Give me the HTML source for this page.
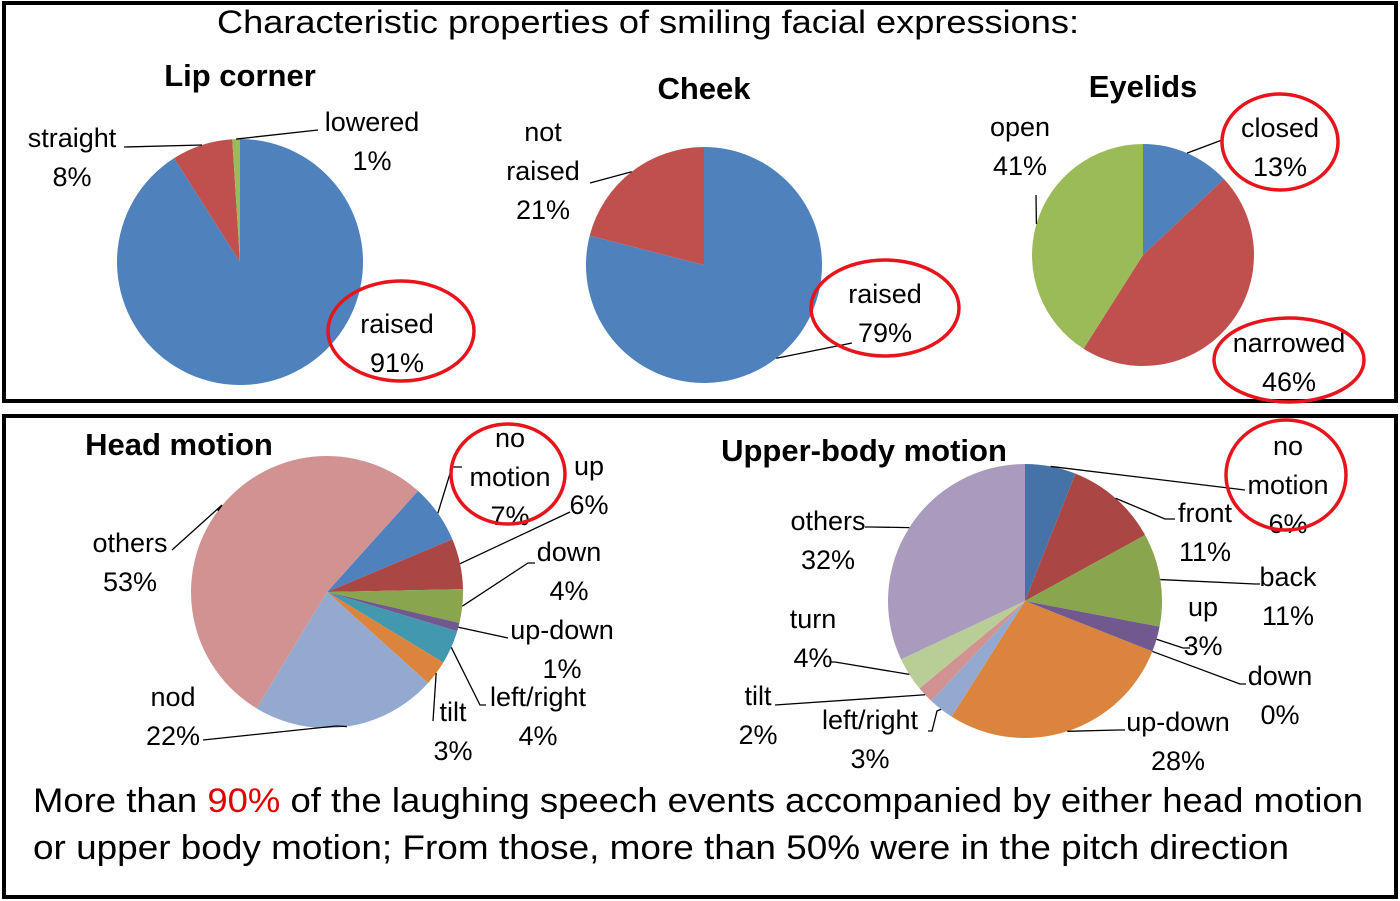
<!DOCTYPE html>
<html><head><meta charset="utf-8"><style>
html,body{margin:0;padding:0;background:#fff;}
svg{display:block;font-family:"Liberation Sans",sans-serif;}
text{fill:#000;}
</style></head><body>
<svg id="c" width="1400" height="901" viewBox="0 0 1400 901">
<rect x="4" y="3" width="1392" height="398" fill="none" stroke="#000" stroke-width="4"/>
<rect x="4" y="416" width="1392" height="481" fill="none" stroke="#000" stroke-width="4"/>
<text x="648" y="33" font-size="32" text-anchor="middle" textLength="862" lengthAdjust="spacingAndGlyphs">Characteristic properties of smiling facial expressions:</text>
<g id="pies"></g>
<g id="labels" font-size="27"></g>
<text x="33" y="812" font-size="34" textLength="1330" lengthAdjust="spacingAndGlyphs">More than <tspan fill="#e00000" style="fill:#e00000">90%</tspan> of the laughing speech events accompanied by either head motion</text>
<text x="33" y="859" font-size="34" textLength="1256" lengthAdjust="spacingAndGlyphs">or upper body motion; From those, more than 50% were in the pitch direction</text>
</svg>
<script>
const lipCats=["raised","straight","lowered"];
const lipVals=[91,8,1];
const cheekCats=["raised","not raised"];
const cheekVals=[79,21];
const eyeCats=["closed","narrowed","open"];
const eyeVals=[13,46,41];
const headCats=["no motion","up","down","up-down","left/right","tilt","nod","others"];
const headVals=[7,6,4,1,4,3,22,53];
const bodyCats=["no motion","front","back","up","down","up-down","left/right","tilt","turn","others"];
const bodyVals=[6,11,11,3,0,28,3,2,4,32];

const NS="http://www.w3.org/2000/svg";
const svg=document.getElementById('c');
const pg=document.getElementById('pies');
const lg=document.getElementById('labels');
function mk(tag,attrs,parent){const e=document.createElementNS(NS,tag);for(const k in attrs)e.setAttribute(k,attrs[k]);(parent||svg).appendChild(e);return e;}
function pt(cx,cy,r,deg){const a=deg*Math.PI/180;return [cx+r*Math.sin(a),cy-r*Math.cos(a)];}
function pie(name,cats,vals,cx,cy,r,start,colors){
  const tot=vals.reduce((a,b)=>a+b,0);let a0=start;
  const g=mk('g',{},pg);
  
  
  const mids=[];
  vals.forEach((v,i)=>{
    const sweep=v/tot*360;const a1=a0+sweep;
    mids.push(a0+sweep/2);
    if(sweep>0){
      const p0=pt(cx,cy,r,a0),p1=pt(cx,cy,r,a1);
      const d=sweep>=359.99?`M${cx} ${cy-r}A${r} ${r} 0 1 1 ${cx-0.01} ${cy-r}Z`:
        `M${cx} ${cy}L${p0[0]} ${p0[1]}A${r} ${r} 0 ${sweep>180?1:0} 1 ${p1[0]} ${p1[1]}Z`;
      const p=mk('path',{d:d,fill:colors[i]},g);
      
      
    }
    a0=a1;
  });
  return mids;
}
function lbl(lines,x,y,name,anchor){
  const t=mk('text',{x:x,y:y,'text-anchor':anchor||'middle'},lg);
  
  
  lines.forEach((s,i)=>{const ts=mk('tspan',{x:x,dy:i?39:0},t);ts.textContent=s;});
}
function pct(v){return v+'%';}
function leader(pts){mk('polyline',{points:pts.map(p=>p.join(',')).join(' '),fill:'none',stroke:'#000','stroke-width':1.3},lg);}
function leaderFrom(cx,cy,r,ang,pts){leader([pt(cx,cy,r,ang)].concat(pts));}
function ell(cx,cy,rx,ry,name){const e=mk('ellipse',{cx:cx,cy:cy,rx:rx,ry:ry,fill:'none',stroke:'#e8141c','stroke-width':3.5},lg);}
function title(s,x,y,name){const t=mk('text',{x:x,y:y,'text-anchor':'middle','font-size':31,'font-weight':'bold'},lg);t.textContent=s;}

const C3=["#4f81bd","#c0504d","#9bbb59"];
title("Lip corner",240,86,"lip-corner-title");
let m=pie("lip-corner",lipCats,lipVals,240,262,123,0,C3);
lbl([lipCats[0],pct(lipVals[0])],397,333,"label-raised");
ell(401,331,73,50,"highlight-raised");
leaderFrom(240,262,123,m[1],[[124,147]]);
lbl([lipCats[1],pct(lipVals[1])],72,147,"label-straight");
leaderFrom(240,262,123,m[2],[[318,130]]);
lbl([lipCats[2],pct(lipVals[2])],372,131,"label-lowered");
title("Cheek",704,99,"cheek-title");
m=pie("cheek",cheekCats,cheekVals,704,265,118,0,C3);
leaderFrom(704,265,118,m[0],[[852,343]]);
lbl([cheekCats[0],pct(cheekVals[0])],885,303,"label-cheek-raised");
ell(885,308,74,48,"highlight-cheek-raised");
leaderFrom(704,265,118,m[1],[[590,183]]);
lbl(["not","raised",pct(cheekVals[1])],543,141,"label-not-raised");
title("Eyelids",1143,97,"eyelids-title");
m=pie("eyelids",eyeCats,eyeVals,1143,255,111,0,C3);
leaderFrom(1143,255,111,m[0],[[1222,140]]);
lbl([eyeCats[0],pct(eyeVals[0])],1280,137,"label-closed");
ell(1280,142,58,48,"highlight-closed");
lbl([eyeCats[1],pct(eyeVals[1])],1289,352,"label-narrowed");
ell(1289,360,75,42,"highlight-narrowed");
leaderFrom(1143,255,111,m[2],[[1036,195]]);
lbl([eyeCats[2],pct(eyeVals[2])],1020,136,"label-open");

const CH=["#4f81bd","#aa4643","#89a54e","#71588f","#4198af","#db843d","#93a9cf","#d19392"];
title("Head motion",179,455,"head-motion-title");
m=pie("head-motion",headCats,headVals,327,592,136,42,CH);
leaderFrom(327,592,136,m[0],[[452,467],[462,467]]);
lbl(["no","motion",pct(headVals[0])],510,447,"label-head-no-motion");
ell(508,474,57,50,"highlight-head-no-motion");
leaderFrom(327,592,136,m[1],[[570,512]]);
lbl([headCats[1],pct(headVals[1])],589,475,"label-head-up");
leaderFrom(327,592,136,m[2],[[528,563],[535,563]]);
lbl([headCats[2],pct(headVals[2])],569,561,"label-head-down");
leaderFrom(327,592,136,m[3],[[508,638]]);
lbl([headCats[3],pct(headVals[3])],562,639,"label-head-up-down");
leaderFrom(327,592,136,m[4],[[480,705],[486,705]]);
lbl([headCats[4],pct(headVals[4])],538,706,"label-head-left-right");
leaderFrom(327,592,136,m[5],[[433,721]]);
lbl([headCats[5],pct(headVals[5])],453,721,"label-head-tilt");
leaderFrom(327,592,136,m[6],[[336,726],[203,740]]);
lbl([headCats[6],pct(headVals[6])],173,706,"label-head-nod");
leaderFrom(327,592,136,m[7],[[222,505],[172,550]]);
lbl([headCats[7],pct(headVals[7])],130,552,"label-head-others");

const CB=["#4572a7","#aa4643","#89a54e","#71588f","#4198af","#db843d","#93a9cf","#d19392","#b9cd96","#a99bbd"];
title("Upper-body motion",864,461,"upper-body-motion-title");
m=pie("upper-body",bodyCats,bodyVals,1025,601,137,0,CB);
leaderFrom(1025,601,137,m[0],[[1245,490]]);
lbl(["no","motion",pct(bodyVals[0])],1288,455,"label-body-no-motion");
ell(1286,475,60,55,"highlight-body-no-motion");
leaderFrom(1025,601,137,m[1],[[1165,519],[1175,519]]);
lbl([bodyCats[1],pct(bodyVals[1])],1205,522,"label-body-front");
leaderFrom(1025,601,137,m[2],[[1255,584],[1260,584]]);
lbl([bodyCats[2],pct(bodyVals[2])],1288,586,"label-body-back");
leaderFrom(1025,601,137,m[3],[[1183,648],[1190,648]]);
lbl([bodyCats[3],pct(bodyVals[3])],1203,616,"label-body-up");
leaderFrom(1025,601,137,m[4],[[1240,684],[1246,684]]);
lbl([bodyCats[4],pct(bodyVals[4])],1280,685,"label-body-down");
leaderFrom(1025,601,137,m[5],[[1118,730],[1125,730]]);
lbl([bodyCats[5],pct(bodyVals[5])],1178,731,"label-body-up-down");
leaderFrom(1025,601,137,m[6],[[937,711],[932,731],[928,731]]);
lbl([bodyCats[6],pct(bodyVals[6])],870,729,"label-body-left-right");
leaderFrom(1025,601,137,m[7],[[775,705]]);
lbl([bodyCats[7],pct(bodyVals[7])],758,705,"label-body-tilt");
leaderFrom(1025,601,137,m[8],[[835,662],[830,662]]);
lbl([bodyCats[8],pct(bodyVals[8])],813,628,"label-body-turn");
leaderFrom(1025,601,137,m[9],[[870,527],[865,527]]);
lbl([bodyCats[9],pct(bodyVals[9])],828,530,"label-body-others");
</script>
</body></html>
